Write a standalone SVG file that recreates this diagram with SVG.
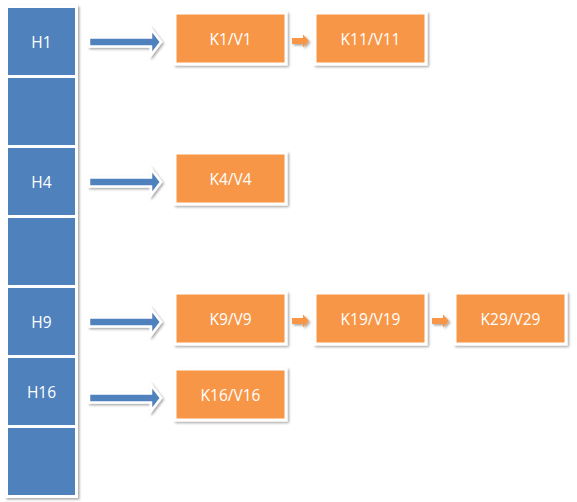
<svg xmlns="http://www.w3.org/2000/svg" width="577" height="502" viewBox="0 0 577 502">
<defs>
<filter id="sh" x="-20%" y="-20%" width="140%" height="140%">
<feDropShadow dx="1.5" dy="1.5" stdDeviation="1.2" flood-color="#000" flood-opacity="0.35"/>
</filter>
<path id="bigArrow" d="M0,-4.5 H62 V-13 L72,0 L62,13 V4.5 H0 Z"/>
<path id="smallArrow" d="M0,-3 H11 V-6.5 L17,0 L11,6.5 V3 H0 Z"/>
</defs>
<style>
.cell{fill:#4f81bd;}
.frame{fill:#ffffff;}
.kv{fill:#f79646;stroke:#ffffff;stroke-width:3;}
.ba{fill:#4f81bd;stroke:#ffffff;stroke-width:2.5;stroke-linejoin:miter;}
.sa{fill:#f79646;}
text{font-family:"Open Sans","Liberation Sans",Arial,sans-serif;font-size:15.5px;fill:#ffffff;text-anchor:middle;dominant-baseline:central;}
</style>
<rect width="577" height="502" fill="#ffffff"/>
<g id="table">
<rect class="frame" x="5" y="5" width="73" height="493" filter="url(#sh)"/>
<g id="cell1"><rect class="cell" x="8" y="8" width="67" height="67"/><text x="41.5" y="41.5">H1</text></g>
<g id="cell2"><rect class="cell" x="8" y="78" width="67" height="67"/></g>
<g id="cell3"><rect class="cell" x="8" y="148" width="67" height="67"/><text x="41.5" y="181.5">H4</text></g>
<g id="cell4"><rect class="cell" x="8" y="218" width="67" height="67"/></g>
<g id="cell5"><rect class="cell" x="8" y="288" width="67" height="67"/><text x="41.5" y="321.5">H9</text></g>
<g id="cell6"><rect class="cell" x="8" y="358" width="67" height="67"/><text x="41.5" y="391.5">H16</text></g>
<g id="cell7"><rect class="cell" x="8" y="428" width="67" height="67"/></g>
</g>
<g id="connectors">
<use href="#bigArrow" class="ba" x="89" y="42" filter="url(#sh)"/>
<use href="#bigArrow" class="ba" x="89" y="182" filter="url(#sh)"/>
<use href="#bigArrow" class="ba" x="89" y="322" filter="url(#sh)"/>
<use href="#bigArrow" class="ba" x="89" y="398" filter="url(#sh)"/>
<use href="#smallArrow" class="sa" x="292" y="41" filter="url(#sh)"/>
<use href="#smallArrow" class="sa" x="292" y="321" filter="url(#sh)"/>
<use href="#smallArrow" class="sa" x="432" y="321" filter="url(#sh)"/>
</g>
<g id="kv1"><rect class="kv" x="175" y="13" width="111" height="51" filter="url(#sh)"/><text x="230.5" y="39">K1/V1</text></g>
<g id="kv11"><rect class="kv" x="315" y="13" width="111" height="51" filter="url(#sh)"/><text x="370.5" y="39">K11/V11</text></g>
<g id="kv4"><rect class="kv" x="175" y="153" width="111" height="51" filter="url(#sh)"/><text x="230.5" y="179">K4/V4</text></g>
<g id="kv9"><rect class="kv" x="175" y="293" width="111" height="51" filter="url(#sh)"/><text x="230.5" y="319">K9/V9</text></g>
<g id="kv19"><rect class="kv" x="315" y="293" width="111" height="51" filter="url(#sh)"/><text x="370.5" y="319">K19/V19</text></g>
<g id="kv29"><rect class="kv" x="455" y="293" width="111" height="51" filter="url(#sh)"/><text x="510.5" y="319">K29/V29</text></g>
<g id="kv16"><rect class="kv" x="175" y="369" width="111" height="51" filter="url(#sh)"/><text x="230.5" y="395">K16/V16</text></g>
</svg>
